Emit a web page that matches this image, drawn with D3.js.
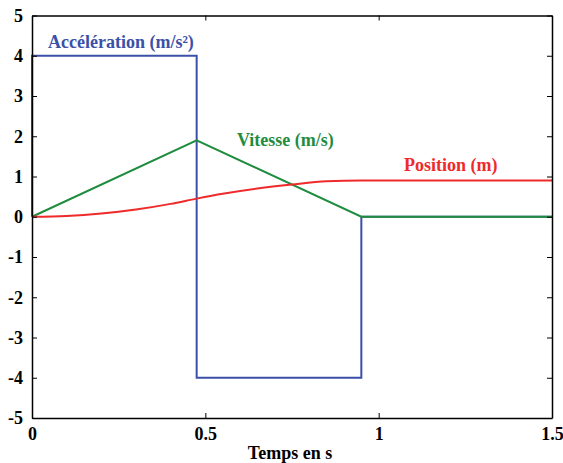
<!DOCTYPE html>
<html>
<head>
<meta charset="utf-8">
<script src="https://cdn.jsdelivr.net/npm/d3@7"></script>
<style>
  body { margin: 0; background: #fff; }
  svg text { font-family: "Liberation Serif" !important; font-weight: bold !important; }
</style>
</head>
<body>
<script>
// acceleration (m/s²), velocity (m/s), position (m) vs time (s)
var accelT = [0, 0, 0.475, 0.475, 0.95, 0.95, 1.5];
var accelV = [0, 4, 4, -4, -4, 0, 0];
var vitT = [0, 0.475, 0.95, 1.5];
var vitV = [0, 1.9, 0, 0];
var posT = [0, 0.1, 0.2, 0.3, 0.4, 0.475, 0.55, 0.65, 0.75, 0.85, 0.95, 1.5];
var posV = [0, 0.02, 0.08, 0.18, 0.32, 0.45, 0.57, 0.70, 0.80, 0.88, 0.9, 0.9];
var xTicks = [0, 0.5, 1, 1.5];
var yTicks = [-5, -4, -3, -2, -1, 0, 1, 2, 3, 4, 5];

var width = 563, height = 463;
var margin = {left: 32, right: 11, top: 15.5, bottom: 45};
var serif = "Liberation Serif";

var svg = d3.select("body").append("svg")
    .attr("width", width)
    .attr("height", height);

var x = d3.scaleLinear().domain([0, 1.5]).range([margin.left, width - margin.right]);
var y = d3.scaleLinear().domain([-5, 5]).range([height - margin.bottom, margin.top]);

function zip(ts, vs) { return ts.map(function(t, i) { return [t, vs[i]]; }); }

var line = d3.line()
    .x(function(d) { return x(d[0]); })
    .y(function(d) { return y(d[1]); });

// plot lines
svg.append("path").datum(zip(accelT, accelV))
    .attr("d", line)
    .attr("fill", "none").attr("stroke", "#3b50a8").attr("stroke-width", 2);
svg.append("path").datum(zip(vitT, vitV))
    .attr("d", line)
    .attr("fill", "none").attr("stroke", "#1f8c3e").attr("stroke-width", 2);
svg.append("path").datum(zip(posT, posV))
    .attr("d", line.curve(d3.curveMonotoneX))
    .attr("fill", "none").attr("stroke", "#ee2a2a").attr("stroke-width", 2);

// axes (box with inward ticks)
var tickLen = 5;
var fmt = function(d) { return String(d); };
svg.append("g").attr("transform", "translate(0," + y(-5) + ")")
    .call(d3.axisBottom(x).tickValues(xTicks).tickSizeInner(-tickLen).tickSizeOuter(0).tickPadding(9).tickFormat(fmt))
    .call(styleAxis);
svg.append("g").attr("transform", "translate(0," + y(5) + ")")
    .call(d3.axisTop(x).tickValues(xTicks).tickSizeInner(-tickLen).tickSizeOuter(0).tickFormat(""))
    .call(styleAxis);
svg.append("g").attr("transform", "translate(" + x(0) + ",0)")
    .call(d3.axisLeft(y).tickValues(yTicks).tickSizeInner(-tickLen).tickSizeOuter(0).tickPadding(9).tickFormat(fmt))
    .call(styleAxis);
svg.append("g").attr("transform", "translate(" + x(1.5) + ",0)")
    .call(d3.axisRight(y).tickValues(yTicks).tickSizeInner(-tickLen).tickSizeOuter(0).tickFormat(""))
    .call(styleAxis);

function styleAxis(g) {
    g.attr("font-family", serif).attr("font-size", 18).attr("font-weight", "bold");
    g.select(".domain").attr("stroke", "#000").attr("stroke-width", 1.5);
    g.selectAll(".tick line").attr("stroke", "#000");
    g.selectAll(".tick text").attr("fill", "#000")
        .style("font-family", serif, "important");
}

function label(txt, px, py, color, anchor) {
    svg.append("text").attr("x", px).attr("y", py)
        .attr("text-anchor", anchor || "start")
        .attr("fill", color)
        .attr("font-size", 18)
        .style("font-family", serif, "important")
        .text(txt);
}

label("Accélération (m/s²)", 48, 48, "#3b50a8");
label("Vitesse (m/s)", 237, 146, "#1f8c3e");
label("Position (m)", 404, 171, "#ee2a2a");
label("Temps en s", 290, 459, "#000", "middle");
</script>
</body>
</html>
